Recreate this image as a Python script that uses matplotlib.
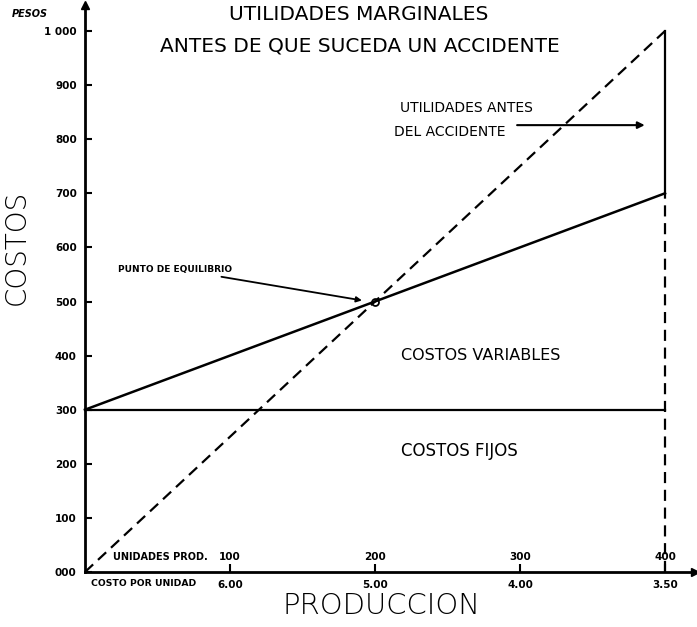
import matplotlib
matplotlib.use("Agg")
import matplotlib.pyplot as plt

# ---- data ----
units = [100, 200, 300, 400]
unit_labels = ["100", "200", "300", "400"]
cost_per_unit = ["6.00", "5.00", "4.00", "3.50"]
y_ticks = [0, 100, 200, 300, 400, 500, 600, 700, 800, 900, 1000]
y_tick_labels = ["000", "100", "200", "300", "400", "500", "600", "700", "800", "900", "1 000"]
sales_x = [0, 400]
sales_y = [0, 1000]
total_cost_x = [0, 400]
total_cost_y = [300, 700]
fixed_cost_x = [0, 400]
fixed_cost_y = [300, 300]
breakeven = (200, 500)

W, H = 697, 627
fig = plt.figure(figsize=(W / 100, H / 100), dpi=100)
fig.patch.set_facecolor("white")

ax_left, ax_bottom, ax_right, ax_top = 85, 572, 695, 5
ax = fig.add_axes([ax_left / W, (H - ax_bottom) / H,
                   (ax_right - ax_left) / W, (ax_bottom - ax_top) / H])
px_x = 1.45   # pixels per unit
px_y = 0.541  # pixels per peso
ax.set_xlim(0, (ax_right - ax_left) / px_x)
ax.set_ylim(0, (ax_bottom - ax_top) / px_y)
ax.set_facecolor("white")

for s in ["top", "right"]:
    ax.spines[s].set_visible(False)
for s in ["left", "bottom"]:
    ax.spines[s].set_linewidth(2.0)
    ax.spines[s].set_color("black")

# axis arrowheads
ax.plot([0], [1], marker="^", color="black", markersize=6, transform=ax.transAxes, clip_on=False)
ax.plot([1], [0], marker=">", color="black", markersize=6, transform=ax.transAxes, clip_on=False)

bold = dict(family="DejaVu Sans", weight="bold")

# y ticks
ax.set_yticks(y_ticks)
ax.set_yticklabels(y_tick_labels, fontsize=7.5, fontweight="bold")
ax.tick_params(axis="y", direction="in", length=5, width=1.5, pad=6, colors="black")

# x ticks: cost per unit labels below axis
ax.set_xticks(units)
ax.set_xticklabels(cost_per_unit, fontsize=7.5, fontweight="bold")
ax.tick_params(axis="x", direction="in", length=6, width=1.5, pad=6, colors="black")

# unit labels inside, above axis
for u, lab in zip(units, unit_labels):
    ax.annotate(lab, (u, 0), xytext=(0, 11), textcoords="offset points",
                ha="center", va="center", fontsize=7.5, **bold)
ax.annotate("UNIDADES PROD.", (0, 0), xytext=(20, 11), textcoords="offset points",
            ha="left", va="center", fontsize=7, **bold)
ax.annotate("COSTO POR UNIDAD", (0, 0), xytext=(4, -8.3), textcoords="offset points",
            ha="left", va="center", fontsize=6.7, annotation_clip=False, **bold)

# lines
ax.plot(sales_x, sales_y, color="black", lw=1.6, linestyle=(0, (5, 3)), clip_on=False)
ax.plot(total_cost_x, total_cost_y, color="black", lw=1.8, clip_on=False)
ax.plot(fixed_cost_x, fixed_cost_y, color="black", lw=1.6, clip_on=False)
ax.plot([sales_x[-1], sales_x[-1]], [total_cost_y[-1], sales_y[-1]], color="black", lw=1.6)
ax.plot([sales_x[-1], sales_x[-1]], [0, total_cost_y[-1]], color="black", lw=1.6,
        linestyle=(0, (5, 3)))
ax.plot([breakeven[0]], [breakeven[1]], marker="o", markersize=5, mfc="none",
        mec="black", mew=1.3)

# annotations
ax.annotate("PUNTO DE EQUILIBRIO", xy=(breakeven[0] - 9, breakeven[1] + 2),
            xytext=(23, 560), ha="left", va="center", fontsize=6.5, **bold,
            arrowprops=dict(arrowstyle="-|>", color="black", lw=1.3,
                            shrinkA=2, shrinkB=0, mutation_scale=8))
ax.text(217, 857, "UTILIDADES ANTES", ha="left", va="center", fontsize=10,
        family="DejaVu Sans")
ax.text(213, 813, "DEL ACCIDENTE", ha="left", va="center", fontsize=10,
        family="DejaVu Sans")
ax.annotate("", xy=(386, 826), xytext=(298, 826),
            arrowprops=dict(arrowstyle="-|>", color="black", lw=1.5, mutation_scale=10,
                            shrinkA=0, shrinkB=0))
ax.text(218, 400, "COSTOS VARIABLES", ha="left", va="center", fontsize=11.5,
        family="DejaVu Sans")
ax.text(218, 223, "COSTOS FIJOS", ha="left", va="center", fontsize=12,
        family="DejaVu Sans")

# titles and axis labels (figure pixel coords)
def fx(px):
    return px / W

def fy(py):
    return 1 - py / H

fig.text(fx(359), fy(15), "UTILIDADES MARGINALES", ha="center", va="center",
         fontsize=14.5, family="DejaVu Sans")
fig.text(fx(360), fy(46), "ANTES DE QUE SUCEDA UN ACCIDENTE", ha="center", va="center",
         fontsize=14.5, family="DejaVu Sans")
fig.text(fx(30), fy(14), "PESOS", ha="center", va="center", fontsize=7,
         family="DejaVu Sans", weight="bold", style="italic")
fig.text(fx(17), fy(247), "COSTOS", ha="center", va="center", rotation=90,
         fontsize=20, family="DejaVu Sans", weight="light")
fig.text(fx(382), fy(606), "PRODUCCION", ha="center", va="center",
         fontsize=21, family="DejaVu Sans", weight="light")

fig.savefig("out.png", dpi=100, facecolor="white")
